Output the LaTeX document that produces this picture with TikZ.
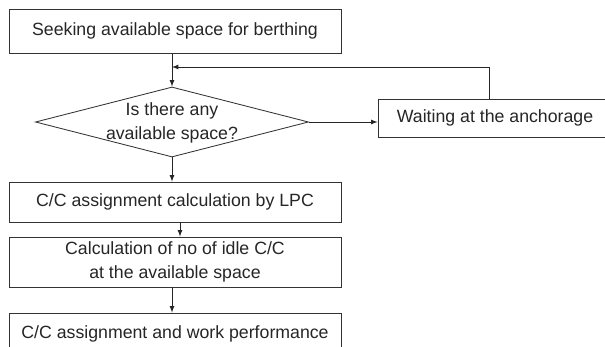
\documentclass[tikz,border=0pt]{standalone}
\usepackage{fontspec}
\setmainfont{Liberation Sans}
\usetikzlibrary{shapes.geometric}

\begin{document}
\begin{tikzpicture}[x=0.025cm, y=-0.025cm,
  box/.style={draw=black!80, line width=0.6pt, rectangle, inner sep=0pt,
    font=\fontsize{12.6pt}{17pt}\selectfont, text=black!85},
  ask/.style={draw=black!80, line width=0.6pt, diamond, inner sep=0pt},
  lbl/.style={align=center, inner sep=0pt,
    font=\fontsize{12.6pt}{17pt}\selectfont, text=black!85},
  arr/.style={-latex, draw=black!85, line width=0.6pt}]
\useasboundingbox (0, 0) rectangle (605, 347);
\clip (0, 0) rectangle (605, 347);
\fill [white] (0, 0) rectangle (605, 347);

\node (seek) at (175, 31) [box, minimum width=8.3cm, minimum height=1.1cm] {Seeking available space for berthing};
\node (isthere) at (172, 122) [ask, minimum width=6.825cm, minimum height=1.75cm] {};
\node (asktext) at (172, 123) [lbl] {Is there any\\available space?};
\node (wait) at (495, 118) [box, minimum width=5.85cm, minimum height=0.95cm] {Waiting at the anchorage};
\node (lpc) at (175, 202) [box, minimum width=8.3cm, minimum height=1.0cm] {C/C assignment calculation by LPC};
\node (idle) at (175, 262) [box, minimum width=8.3cm, minimum height=1.25cm, align=center] {Calculation of no of idle C/C\\at the available space};
\node (work) at (175, 334) [box, minimum width=8.3cm, minimum height=1.05cm] {C/C assignment and work performance};

\coordinate (turn) at (489, 67);
\coordinate (join) at (172, 67);

\draw [arr] (seek.south -| isthere.north) -- (isthere.north);
\draw [arr] ([xshift=-0.15cm]wait.north) |- (join);
\draw [arr] (isthere.east) -- (isthere.east -| wait.west);
\draw [arr] (isthere.south) -- (isthere.south |- lpc.north);
\draw [arr] ([xshift=0.125cm]lpc.south) -- ([xshift=0.125cm]lpc.south |- idle.north);
\draw [arr] (idle.south -| isthere.south) -- (work.north -| isthere.south);
\end{tikzpicture}
\end{document}
